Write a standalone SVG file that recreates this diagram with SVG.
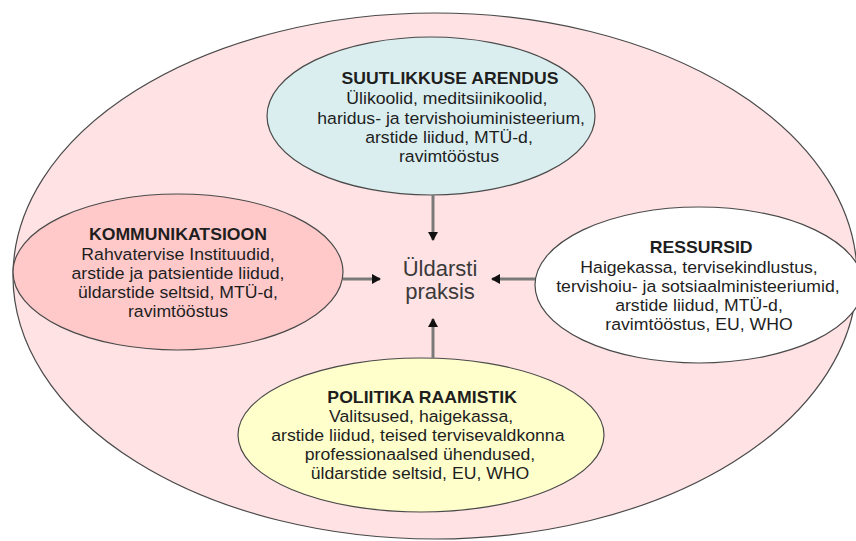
<svg xmlns="http://www.w3.org/2000/svg" width="856" height="541" viewBox="0 0 856 541">
<style>
.el{stroke:#4a4a4a;stroke-width:1.2}
text{font-family:"Liberation Sans",Arial,sans-serif;fill:#1e1e1e;text-anchor:middle}
.t{font-weight:bold;font-size:16.5px}
.b{font-size:16.5px}
.c{font-size:22px;fill:#3a3a3a}
.ln{stroke:#7a7a7a;stroke-width:3;fill:none}
</style>
<defs>
<marker id="ah" markerWidth="10" markerHeight="10" refX="8" refY="5" orient="auto" markerUnits="userSpaceOnUse">
<path d="M0,0 L9,5 L0,10 z" fill="#111"/>
</marker>
</defs>
<rect width="856" height="541" fill="#ffffff"/>
<g id="outer">
<ellipse class="el" cx="435" cy="276" rx="422" ry="263" fill="#FFE2E4"/>
</g>
<g id="center">
<text class="c" x="440" y="276">Üldarsti</text>
<text class="c" x="440" y="299">praksis</text>
</g>
<g id="suutlikkuse">
<ellipse class="el" cx="431" cy="116" rx="164" ry="79" fill="#DAEEF0"/>
<g transform="translate(449,0) scale(1.07,1) translate(-449,0)">
<text class="t" x="450" y="84">SUUTLIKKUSE ARENDUS</text>
<text class="b" x="447" y="104">Ülikoolid, meditsiinikoolid,</text>
<text class="b" x="451" y="124">haridus- ja tervishoiuministeerium,</text>
<text class="b" x="449" y="143">arstide liidud, MTÜ-d,</text>
<text class="b" x="449" y="162">ravimtööstus</text>
</g>
</g>
<g id="kommunikatsioon">
<ellipse class="el" cx="178" cy="272" rx="165" ry="78" fill="#FFC9CA"/>
<g transform="translate(178,0) scale(1.07,1) translate(-178,0)">
<text class="t" x="178" y="240">KOMMUNIKATSIOON</text>
<text class="b" x="178" y="260">Rahvatervise Instituudid,</text>
<text class="b" x="178" y="279">arstide ja patsientide liidud,</text>
<text class="b" x="178" y="298">üldarstide seltsid, MTÜ-d,</text>
<text class="b" x="178" y="317">ravimtööstus</text>
</g>
</g>
<g id="ressursid">
<ellipse class="el" cx="699" cy="285" rx="164" ry="78" fill="#FFFFFF"/>
<g transform="translate(699,0) scale(1.07,1) translate(-699,0)">
<text class="t" x="701" y="253">RESSURSID</text>
<text class="b" x="699" y="273">Haigekassa, tervisekindlustus,</text>
<text class="b" x="698" y="292">tervishoiu- ja sotsiaalministeeriumid,</text>
<text class="b" x="699" y="311">arstide liidud, MTÜ-d,</text>
<text class="b" x="699" y="330">ravimtööstus, EU, WHO</text>
</g>
</g>
<g id="poliitika">
<ellipse class="el" cx="421" cy="435" rx="183" ry="77" fill="#FFFFCC"/>
<g transform="translate(420,0) scale(1.07,1) translate(-420,0)">
<text class="t" x="422" y="403">POLIITIKA RAAMISTIK</text>
<text class="b" x="421" y="422">Valitsused, haigekassa,</text>
<text class="b" x="418" y="441">arstide liidud, teised tervisevaldkonna</text>
<text class="b" x="420" y="460">professionaalsed ühendused,</text>
<text class="b" x="420" y="479">üldarstide seltsid, EU, WHO</text>
</g>
</g>
<g id="connectors">
<line class="ln" x1="433" y1="195" x2="433" y2="240" marker-end="url(#ah)"/>
<line class="ln" x1="343" y1="279" x2="380" y2="279" marker-end="url(#ah)"/>
<line class="ln" x1="535" y1="279" x2="492" y2="279" marker-end="url(#ah)"/>
<line class="ln" x1="433" y1="358" x2="433" y2="319" marker-end="url(#ah)"/>
</g>
</svg>
